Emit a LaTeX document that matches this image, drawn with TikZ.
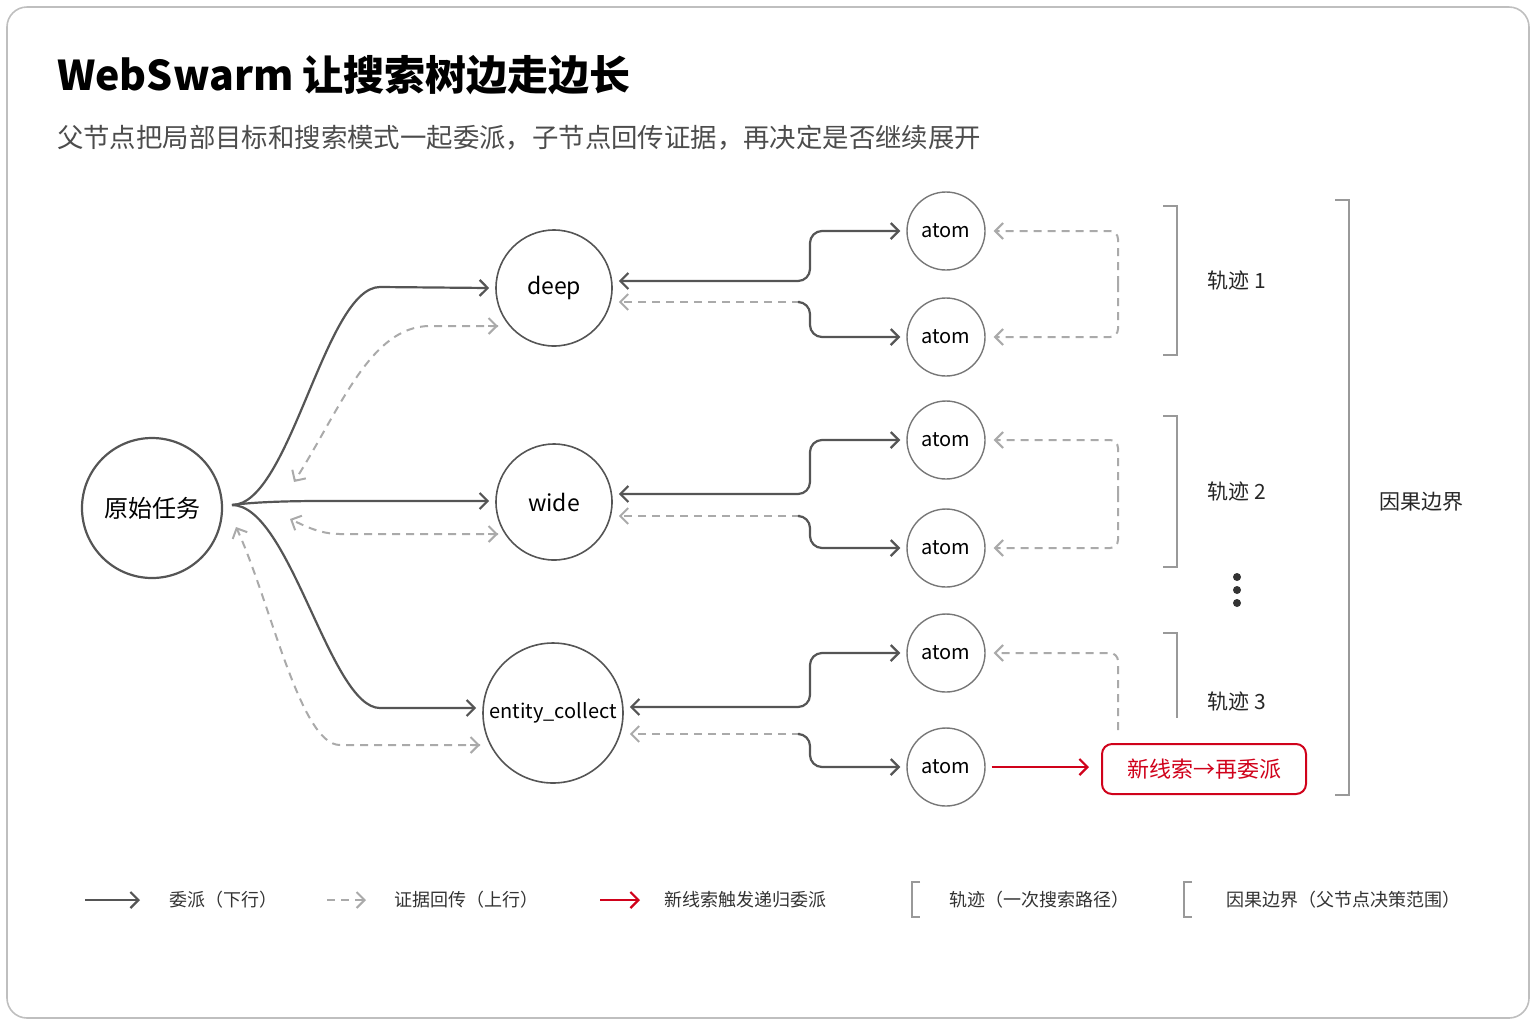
\documentclass[tikz,border=0pt]{standalone}
\usepackage{fontspec}
\setmainfont{Noto Sans CJK SC}
\usetikzlibrary{arrows.meta,positioning}
\definecolor{ink}{HTML}{555555}
\definecolor{dash}{HTML}{AAAAAA}
\definecolor{alert}{HTML}{D0021B}
\tikzset{
  tip/.tip={Straight Barb[length=4pt,width=8pt]},
  task/.style={circle, draw=ink, line width=1.1pt, inner sep=0pt},
  leaf/.style={circle, draw=ink!80, line width=0.7pt, minimum size=39pt, inner sep=0pt, font=\fontsize{10}{12}\selectfont},
  down/.style={draw=ink, line width=1.1pt, -tip},
  both/.style={draw=ink, line width=1.1pt, tip-tip},
  up/.style={draw=dash, line width=1pt, dash pattern=on 4pt off 3pt, -tip},
  fresh/.style={draw=alert, line width=1.1pt, -tip},
  brk/.style={draw=ink!60, line width=0.8pt},
  lbl/.style={font=\fontsize{10.5}{12}\selectfont, text=black!85},
  legend/.style={font=\fontsize{9}{11}\selectfont, text=black!80, anchor=west}
}
\begin{document}
\begin{tikzpicture}[x=0.5pt,y=-0.5pt]
\useasboundingbox (0,0) rectangle (1536,1024);
\draw[black!25, line width=0.8pt, rounded corners=10pt] (7,7) rectangle (1529,1018);

% heading
\node[anchor=west, font=\fontsize{20.5}{24}\selectfont\bfseries] (title) at (50,75) {WebSwarm 让搜索树边走边长};
\node[anchor=west, font=\fontsize{13.2}{15}\selectfont, text=black!70] (sub) at (50,138) {父节点把局部目标和搜索模式一起委派，子节点回传证据，再决定是否继续展开};

% task nodes
\node[task, minimum size=70pt, font=\fontsize{12}{14}\selectfont] (root) at (152,508) {原始任务};
\node[task, line width=0.8pt, minimum size=58pt, font=\fontsize{11.5}{14}\selectfont] (deep) at (554,288) {deep};
\node[task, line width=0.8pt, minimum size=58pt, font=\fontsize{11.5}{14}\selectfont] (wide) at (554,502) {wide};
\node[task, line width=0.8pt, minimum size=70pt, font=\fontsize{10}{12}\selectfont] (ent) at (553,713) {entity\_collect};
\coordinate (fork) at (232,505);

% atoms
\foreach \n/\y in {a1/231,a2/337,a3/440,a4/548,a5/653,a6/767}
  \node[leaf] (\n) at (946,\y) {atom};

% delegation from the root
\draw[down] (fork) .. controls (290,505) and (325,287) .. (380,287) -- ([xshift=-3pt]deep.west);
\draw[down] (fork) .. controls (270,500) and (330,501) .. (380,501) -- ([xshift=-3pt]wide.west |- 0,501);
\draw[down] (fork) .. controls (290,505) and (330,708) .. (380,708) -- ([xshift=-3pt]ent.west |- 0,708);

% evidence back to the root
\draw[up] (498,326) -- (430,326) .. controls (370,326) and (340,410) .. (294,482);
\draw[up] (498,534) -- (340,534) .. controls (320,534) and (305,526) .. (290,519);
\draw[up] (480,745) -- (340,745) .. controls (300,745) and (270,600) .. (236,527);
\foreach \x/\y in {498/326, 498/534, 480/745}
  \draw[draw=dash, line width=1pt, -tip] (\x-10,\y) -- (\x,\y);

% delegation to atoms and evidence back
\foreach \t/\u/\l/\ya/\yb in {deep/a1/a2/281/302, wide/a3/a4/494/516, ent/a5/a6/707/734} {
  \draw[both, rounded corners=6pt] ([xshift=3pt]\t.east |- 0,\ya) -- (810,\ya) |- ([xshift=-3pt]\u.west);
  \draw[up] (800,\yb) -- ([xshift=3pt]\t.east |- 0,\yb);
  \draw[down, rounded corners=6pt] (800,\yb) -- (810,\yb) |- ([xshift=-3pt]\l.west);
}
\foreach \a/\b/\m in {a1/a2/284, a3/a4/494} {
  \draw[up, rounded corners=4pt] (1118,\m) |- ([xshift=4pt]\a.east);
  \draw[up, rounded corners=4pt] (1118,\m) |- ([xshift=4pt]\b.east);
}
\coordinate (cut) at (1118,730);
\draw[up, rounded corners=4pt] (cut) |- ([xshift=4pt]a5.east);

% new lead
\node[draw=alert, line width=1pt, rounded corners=5pt, minimum width=102pt, minimum height=25pt, text=alert, font=\fontsize{11}{13}\selectfont] (lead) at (1204,769) {新线索→再委派};
\draw[fresh] ([xshift=3pt]a6.east) -- ([xshift=-6pt]lead.west |- a6);

% trajectory brackets
\draw[brk] (1163,206) -- (1177,206) -- (1177,355) -- (1163,355);
\draw[brk] (1163,416) -- (1177,416) -- (1177,567) -- (1163,567);
\draw[brk] (1163,633) -- (1177,633) -- (1177,718);
\node[lbl] (t1) at (1237,281) {轨迹 1};
\node[lbl] (t2) at (1237,492) {轨迹 2};
\node[lbl] (t3) at (1237,702) {轨迹 3};
\foreach \y in {577,590,603} \fill[black!80] (1237,\y) circle (2pt);
\draw[brk, line width=1.1pt] (1335,200) -- (1349,200) -- (1349,795) -- (1335,795);
\node[lbl] (cause) at (1421,502) {因果边界};

% legend
\coordinate (k1) at (85,900); \coordinate (k2) at (327,900); \coordinate (k3) at (600,900);
\draw[down] (k1) -- ++(55,0);
\node[legend] at (162,900) {委派（下行）};
\draw[up] (k2) -- ++(39,0);
\node[legend] at (387,900) {证据回传（上行）};
\draw[fresh] (k3) -- ++(40,0);
\node[legend] at (657,900) {新线索触发递归委派};
\draw[brk] (920,882) -- (912,882) -- (912,917) -- (920,917);
\node[legend] at (942,900) {轨迹（一次搜索路径）};
\draw[brk] (1192,882) -- (1184,882) -- (1184,917) -- (1192,917);
\node[legend] at (1219,900) {因果边界（父节点决策范围）};
\end{tikzpicture}
\end{document}
